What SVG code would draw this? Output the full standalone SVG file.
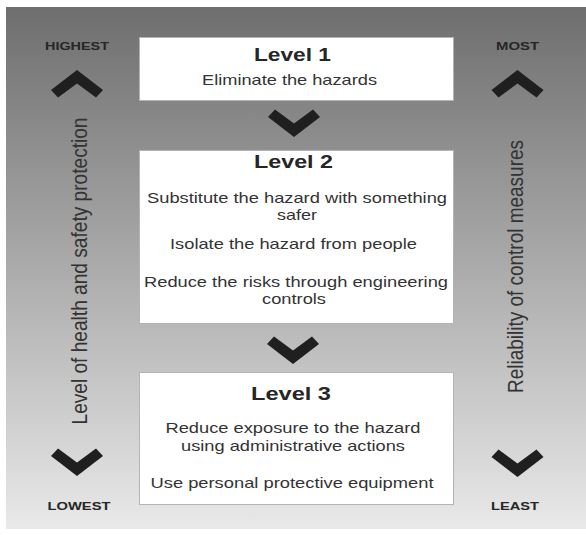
<svg xmlns="http://www.w3.org/2000/svg" width="586" height="535" viewBox="0 0 586 535">
<style>
.box{fill:#ffffff;stroke:#b4b4b4;stroke-width:1}
.lvl{font-family:"Liberation Sans",Arial,sans-serif;font-weight:bold;font-size:18px;fill:#262626;text-anchor:middle}
.txt{font-family:"Liberation Sans",Arial,sans-serif;font-size:15px;fill:#333333;text-anchor:middle}
.lab{font-family:"Liberation Sans",Arial,sans-serif;font-weight:bold;font-size:11px;fill:#262626;text-anchor:middle}
.side{font-family:"Liberation Sans",Arial,sans-serif;font-size:19px;fill:#333333;text-anchor:middle}
.chev{fill:#1f1f1f}
</style>
<defs>
<linearGradient id="bg" x1="0" y1="0" x2="0" y2="1">
<stop offset="0" stop-color="#6e6e6e"/>
<stop offset="0.5" stop-color="#ababab"/>
<stop offset="1" stop-color="#e9e9e9"/>
</linearGradient>
<path id="chev" d="M0,0 L26,20 L19,27.5 L0,13.5 L-19,27.5 L-26,20 Z"/>
</defs>
<rect x="0" y="0" width="586" height="535" fill="#ffffff"/>
<rect x="6" y="7" width="580" height="522" fill="url(#bg)"/>

<g id="connectors">
<use href="#chev" class="chev" transform="translate(294,137) scale(1,-1)"/>
<use href="#chev" class="chev" transform="translate(293,364) scale(1,-1)"/>
</g>

<g id="level1">
<rect class="box" x="139.5" y="37.5" width="314" height="63"/>
<text class="lvl" x="292.5" y="61" textLength="77" lengthAdjust="spacingAndGlyphs">Level 1</text>
<text class="txt" x="289.5" y="85" textLength="175" lengthAdjust="spacingAndGlyphs">Eliminate the hazards</text>
</g>

<g id="level2">
<rect class="box" x="139.5" y="150.5" width="314" height="173"/>
<text class="lvl" x="293.5" y="168" textLength="79" lengthAdjust="spacingAndGlyphs">Level 2</text>
<text class="txt" x="297" y="203" textLength="300" lengthAdjust="spacingAndGlyphs">Substitute the hazard with something</text>
<text class="txt" x="297" y="220" textLength="40" lengthAdjust="spacingAndGlyphs">safer</text>
<text class="txt" x="293.5" y="249" textLength="247" lengthAdjust="spacingAndGlyphs">Isolate the hazard from people</text>
<text class="txt" x="296" y="287" textLength="304" lengthAdjust="spacingAndGlyphs">Reduce the risks through engineering</text>
<text class="txt" x="294" y="304" textLength="64" lengthAdjust="spacingAndGlyphs">controls</text>
</g>

<g id="level3">
<rect class="box" x="139.5" y="372.5" width="314" height="132"/>
<text class="lvl" x="291" y="400" textLength="80" lengthAdjust="spacingAndGlyphs">Level 3</text>
<text class="txt" x="293" y="433" textLength="255" lengthAdjust="spacingAndGlyphs">Reduce exposure to the hazard</text>
<text class="txt" x="293" y="451" textLength="224" lengthAdjust="spacingAndGlyphs">using administrative actions</text>
<text class="txt" x="292" y="488" textLength="283" lengthAdjust="spacingAndGlyphs">Use personal protective equipment</text>
</g>

<g id="left-scale">
<text class="lab" x="77" y="50" textLength="64" lengthAdjust="spacingAndGlyphs">HIGHEST</text>
<use href="#chev" class="chev" transform="translate(77,70)"/>
<text class="side" transform="translate(87,271) scale(1.12,1) rotate(-90)" x="0" y="0" textLength="307" lengthAdjust="spacingAndGlyphs">Level of health and safety protection</text>
<use href="#chev" class="chev" transform="translate(77,476) scale(1,-1)"/>
<text class="lab" x="79" y="510" textLength="63" lengthAdjust="spacingAndGlyphs">LOWEST</text>
</g>

<g id="right-scale">
<text class="lab" x="517.5" y="50" textLength="43" lengthAdjust="spacingAndGlyphs">MOST</text>
<use href="#chev" class="chev" transform="translate(517.5,70)"/>
<text class="side" transform="translate(523,266.5) scale(1.12,1) rotate(-90)" x="0" y="0" textLength="253" lengthAdjust="spacingAndGlyphs">Reliability of control measures</text>
<use href="#chev" class="chev" transform="translate(517.5,477) scale(1,-1)"/>
<text class="lab" x="515" y="510" textLength="48" lengthAdjust="spacingAndGlyphs">LEAST</text>
</g>
</svg>
